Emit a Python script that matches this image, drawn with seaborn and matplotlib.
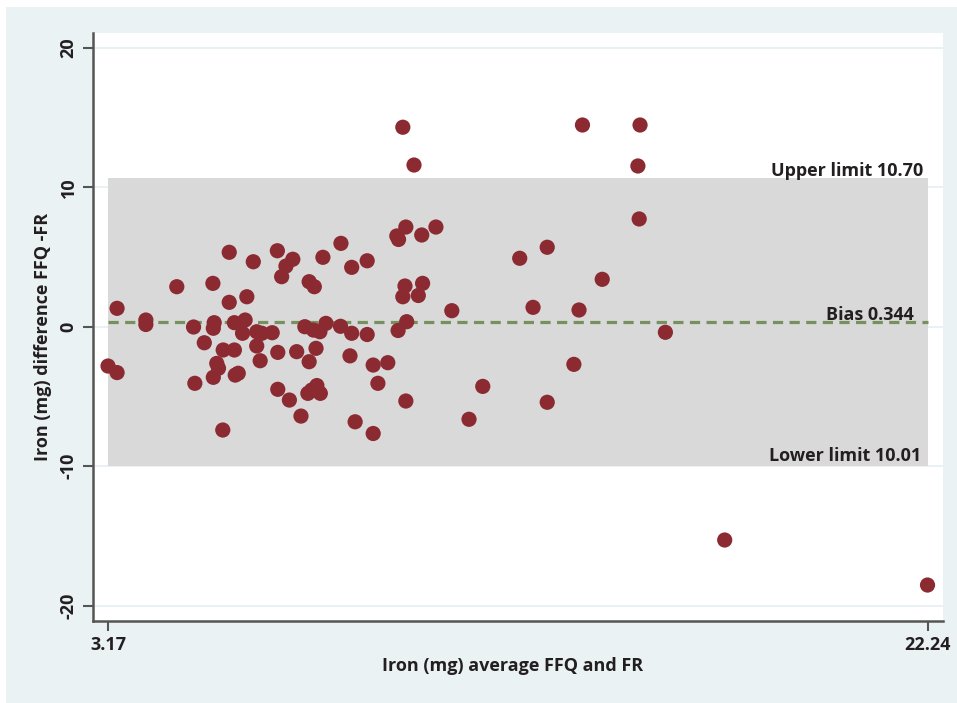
import matplotlib
matplotlib.use("Agg")
import matplotlib.pyplot as plt
from matplotlib.patches import Rectangle
import seaborn as sns
import pandas as pd

# ---- data ----
avg_iron = [3.17, 3.38, 3.38, 4.05, 4.05, 4.77, 5.16, 5.19, 5.41, 5.61,
            5.64, 5.62, 5.99, 5.99, 6.40, 6.11, 6.36, 6.30, 6.63, 6.75,
            6.63, 6.99, 5.85, 6.11, 6.71, 7.12, 5.70, 5.74, 5.62, 6.13,
            6.20, 7.12, 7.39, 5.84, 6.55, 7.11, 7.47, 7.31, 7.21, 8.17,
            8.59, 8.84, 9.20, 7.85, 7.97, 7.75, 7.95, 8.10, 8.24, 8.58,
            8.84, 9.20, 7.56, 8.01, 7.85, 8.80, 9.34, 9.68, 9.45, 7.82,
            8.03, 8.11, 7.91, 7.66, 8.92, 9.34, 10.03, 10.29, 10.10, 9.89,
            9.93, 10.47, 10.80, 10.08, 10.03, 10.49, 10.39, 11.17, 10.12, 9.92,
            10.10, 11.57, 11.89, 12.75, 13.39, 13.06, 14.01, 13.39, 14.21, 14.13,
            14.67, 15.55, 15.50, 15.53, 16.14, 17.52, 22.24]
diff_iron = [-2.82, -3.29, 1.32, 0.48, 0.16, 2.87, -0.02, -4.06, -1.15, 3.11,
             0.29, -0.11, 5.34, 1.75, 2.15, 0.29, 0.48, -0.47, -0.36, -0.47,
             -1.38, -0.43, -1.67, -1.67, -2.44, -1.84, -2.63, -2.98, -3.63, -3.47,
             -3.34, -4.49, -5.26, -7.41, 4.66, 5.45, 4.84, 4.35, 3.59, 4.98,
             5.98, 4.26, 4.73, 3.23, 2.87, 0.00, -0.24, -0.36, 0.24, 0.03,
             -0.47, -0.56, -1.79, -1.55, -2.51, -2.09, -2.75, -2.58, -4.06, -4.78,
             -4.22, -4.78, -4.54, -6.41, -6.82, -7.66, 14.31, 11.60, 7.15, 6.51,
             6.26, 6.58, 7.15, 2.92, 2.15, 3.11, 2.24, 1.15, 0.36, -0.27,
             -5.33, -6.64, -4.28, 4.91, 5.70, 1.39, -2.70, -5.42, 14.47, 1.20,
             3.40, 14.47, 11.53, 7.73, -0.40, -15.30, -18.53]

x_min, x_max = 3.17, 22.24
bias = 0.344
upper = 10.70
lower = -10.01
x_ticks = [3.17, 22.24]
x_tick_labels = ["3.17", "22.24"]
y_ticks = [-20, -10, 0, 10, 20]

df = pd.DataFrame({"avg": avg_iron, "diff": diff_iron})

sns.set_style("ticks")
plt.rcParams["font.family"] = ["Open Sans", "DejaVu Sans"]
FS = 13

W, H = 957, 703
fig = plt.figure(figsize=(W / 100, H / 100), dpi=100)
fig.patch.set_facecolor("white")
fig.patches.append(Rectangle((6 / W, -0.01), 1.01, 1.01 - 7 / H, transform=fig.transFigure,
                             facecolor="#EAF2F4", edgecolor="none", zorder=-10))

ax = fig.add_axes([93 / W, 1 - 621 / H, (943 - 93) / W, (621 - 33) / H])
ax.set_facecolor("white")

# limits of agreement band
ax.fill_between([x_min, x_max], [lower, lower], [upper, upper],
                color="#D9D9D9", linewidth=0, zorder=1)
# bias line
ax.plot([x_min, x_max], [bias, bias], color="#78905E", lw=2.3,
        linestyle=(0, (3.2, 2.0)), zorder=2)

sns.scatterplot(data=df, x="avg", y="diff", ax=ax, color="#8C2A32",
                s=120, edgecolor="none", zorder=3, legend=False)

ax.set_xlim(2.82, 22.60)
ax.set_ylim(-21.11, 21.07)

ax.set_xticks(x_ticks)
ax.set_xticklabels(x_tick_labels)
ax.set_yticks(y_ticks)
ax.set_yticklabels([str(v) for v in y_ticks])
ax.yaxis.grid(True, color="#E6EFF2", lw=1.2, zorder=0)
ax.set_axisbelow(True)

for s in ["top", "right"]:
    ax.spines[s].set_visible(False)
for s in ["left", "bottom"]:
    ax.spines[s].set_color("#555555")
    ax.spines[s].set_linewidth(1.8)

ax.tick_params(axis="both", length=7, width=1.5, color="#555555",
               labelsize=FS, labelcolor="#231F20", pad=4)
ax.tick_params(axis="y", labelrotation=90)
for lab in ax.get_xticklabels() + ax.get_yticklabels():
    lab.set_fontweight("bold")
for lab in ax.get_yticklabels():
    lab.set_verticalalignment("center")

ax.set_xlabel("Iron (mg) average FFQ and FR", fontsize=FS, fontweight="bold",
              color="#231F20")
ax.set_ylabel("Iron (mg) difference FFQ -FR", fontsize=FS, fontweight="bold",
              color="#231F20")
ax.xaxis.set_label_coords((513 - 93) / 850, (621 - 666) / 588)
ax.xaxis.label.set_verticalalignment("center")
ax.yaxis.set_label_coords((43 - 93) / 850, (621 - 337) / 588)
ax.yaxis.label.set_verticalalignment("center")

txt_kw = dict(ha="right", va="baseline", fontsize=FS, fontweight="bold",
              color="#231F20", zorder=4)
ax.text(22.13, 10.81, f"Upper limit {upper:.2f}", **txt_kw)
ax.text(21.92, 0.48, f"Bias {bias:.3f}", **txt_kw)
ax.text(22.09, -9.61, f"Lower limit {abs(lower):.2f}", **txt_kw)

fig.savefig("out.png", dpi=100)
